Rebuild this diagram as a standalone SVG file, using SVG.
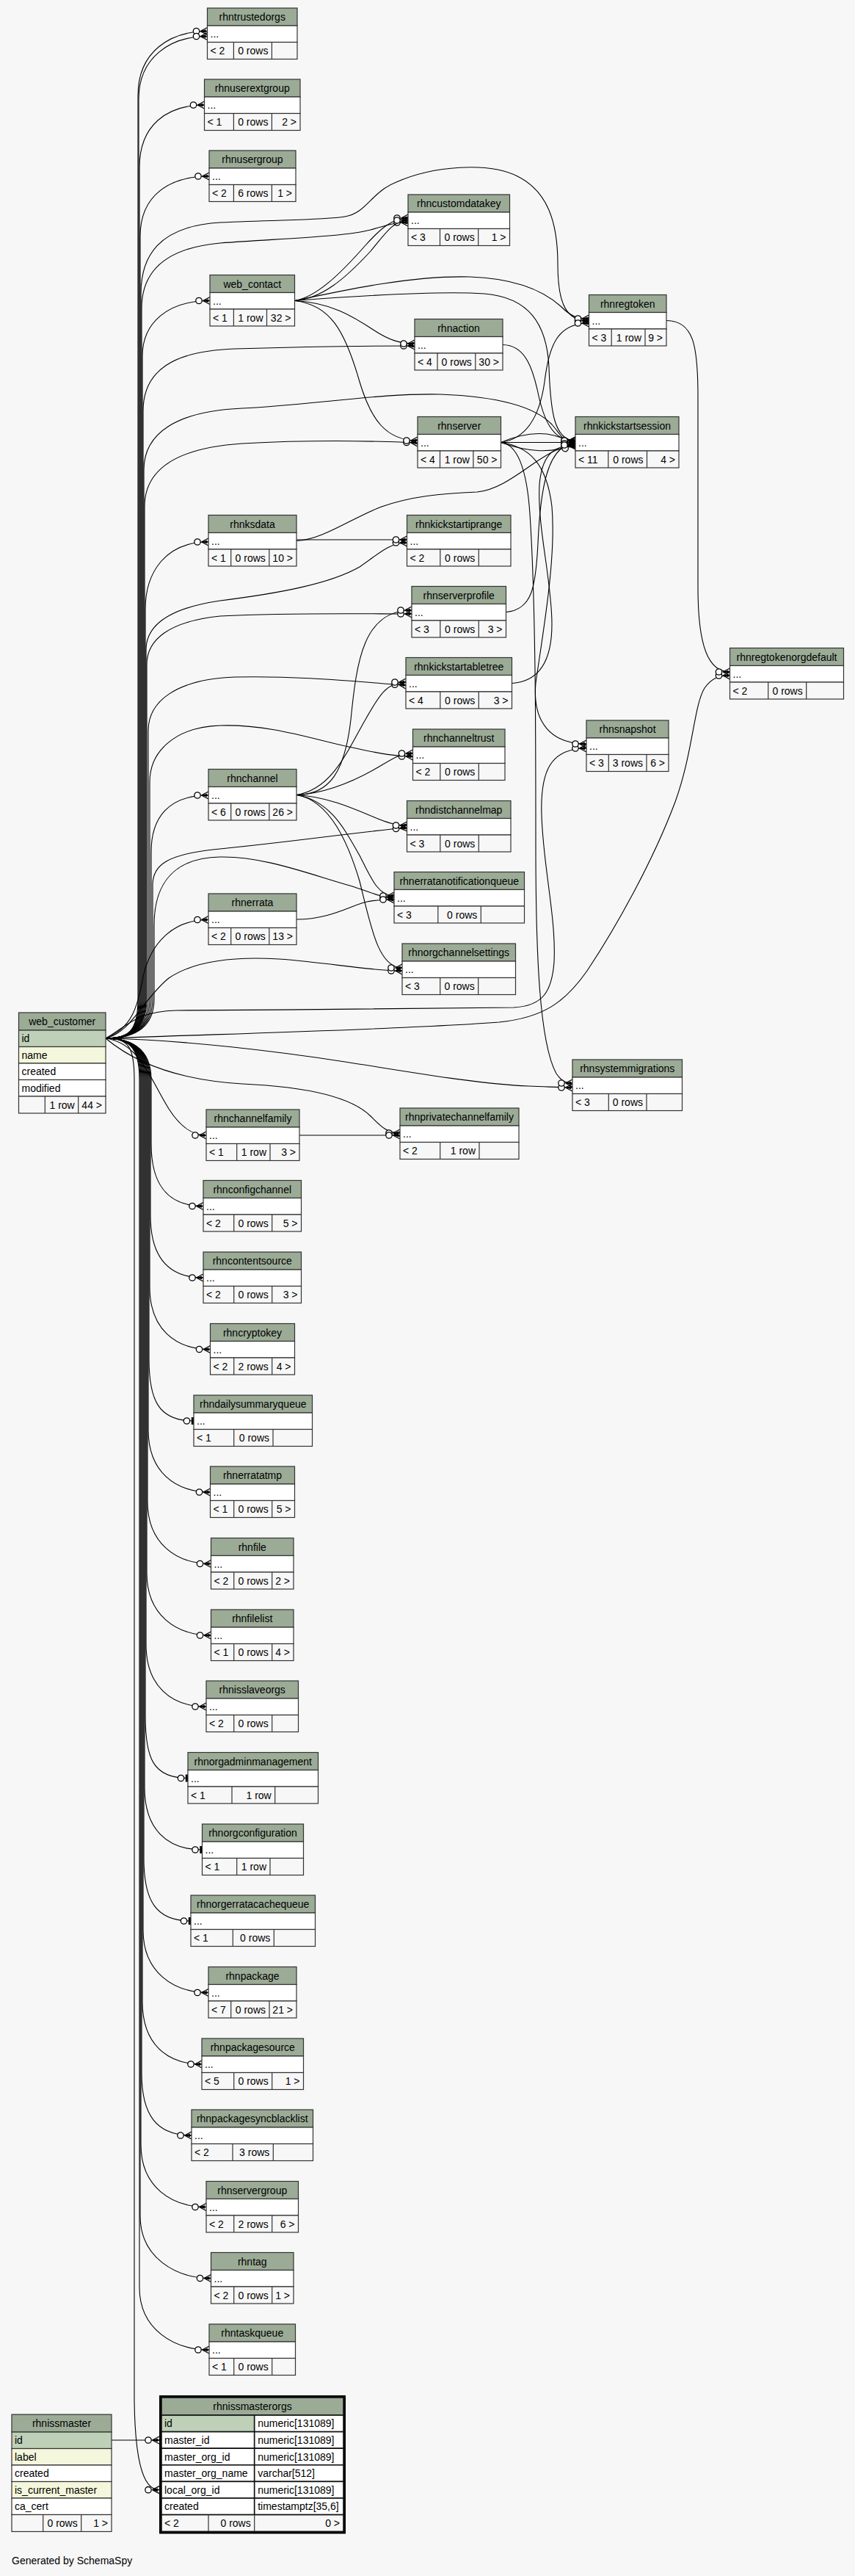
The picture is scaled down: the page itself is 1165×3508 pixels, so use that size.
<svg xmlns="http://www.w3.org/2000/svg" width="1165" height="3508" viewBox="0 0 1165 3508">
<style>
.h{fill:#9bab96;stroke:#333;stroke-width:1.2}
.w{fill:#fff;stroke:#333;stroke-width:1.2}
.p{fill:#bed1b8;stroke:#333;stroke-width:1.2}
.i{fill:#f4f7dc;stroke:#333;stroke-width:1.2}
.f{fill:#f7f7f7;stroke:#333;stroke-width:1.2}
.d{stroke:#333;stroke-width:1.2;fill:none}
text{font-family:"Liberation Sans",Arial,Helvetica,sans-serif;font-size:14px;fill:#000}
.c{text-anchor:middle}
.r{text-anchor:end}
.e{fill:none;stroke:#000;stroke-width:1.1;marker-end:url(#crow)}
.z{fill:none;stroke:#000;stroke-width:1.1;marker-end:url(#tee)}
.fo .w,.fo .p,.fo .h,.fo .f{stroke:#111;stroke-width:1.6}
</style>
<defs>
<marker id="crow" markerUnits="userSpaceOnUse" markerWidth="24" markerHeight="14" viewBox="-20 -7 24 14" refX="0" refY="0" orient="auto" overflow="visible">
<path d="M-9.5,0L0,-5M-9.5,0L0,0M-9.5,0L0,5" stroke="#000" stroke-width="1.3" fill="none"/>
<path d="M-9.5,0L-2,-2.2L-2,2.2Z" fill="#000"/>
<circle cx="-15" cy="0" r="4.2" fill="#fff" stroke="#000" stroke-width="1.3"/>
</marker>
<marker id="tee" markerUnits="userSpaceOnUse" markerWidth="24" markerHeight="14" viewBox="-20 -7 24 14" refX="0" refY="0" orient="auto" overflow="visible">
<rect x="-3.2" y="-5" width="3.2" height="10" fill="#000"/>
<circle cx="-9.5" cy="0" r="4.2" fill="#fff" stroke="#000" stroke-width="1.3"/>
</marker>
</defs>
<rect width="1165" height="3508" fill="#f7f7f7"/>

<g id="connectors">
<path class="e" d="M144,1414 C175,1414 188,1405 188,1360 L188,130 C188,70 232,42.5 282.5,42.5"/>
<path class="e" d="M144,1414 C175,1414 189,1405 189,1360 L189,135 C189,78 232,49.5 282.5,49.5"/>
<path class="e" d="M144,1414 C175,1414 190,1405 190,1360 L190,228 C190,170 228,143 278.5,143"/>
<path class="e" d="M144,1414 C175,1414 191,1405 191,1360 L191,322 C191,265 232,240 285,240"/>
<path class="e" d="M144,1414 C175,1414 192,1405 192,1360 L192,400 C192,350 215,308 300,303 C380,299 440,300 470,295 C500,290 505,262 540,248 C590,226 665,220 705,240 C745,260 760,300 760,360 C760,415 772,437 802.5,437"/>
<path class="e" d="M144,1414 C175,1414 193,1405 193,1360 L193,420 C193,372 222,338 300,331 C400,324 470,322 505,313 C530,306 538,303 556,303"/>
<path class="e" d="M144,1414 C175,1414 194,1405 194,1360 L194,485 C194,440 228,409.5 286,409.5"/>
<path class="e" d="M144,1414 C175,1414 195,1405 195,1360 L195,560 C195,505 235,478 320,475 C420,472 500,471 565,471"/>
<path class="e" d="M144,1414 C175,1414 196,1405 196,1360 L196,640 C196,590 240,560 330,556 C430,551 520,535 600,537 C680,540 730,555 752,578 C764,592 770,605 784,605"/>
<path class="e" d="M144,1414 C175,1414 197,1405 197,1360 L197,690 C197,640 240,610 330,604 C420,599 500,600 569,603"/>
<path class="e" d="M144,1414 C175,1414 198,1405 198,1360 L198,830 C198,780 225,738 284,738"/>
<path class="e" d="M144,1414 C175,1414 199,1405 199,1360 L199,885 C199,850 232,828 300,818 C380,808 450,795 490,772 C515,755 530,739 554.5,739"/>
<path class="e" d="M144,1414 C175,1414 200,1405 200,1360 L200,905 C200,870 232,846 300,839 C400,834 500,836 561,836"/>
<path class="e" d="M144,1414 C175,1414 202,1405 202,1360 L202,995 C202,955 240,925 320,922 C420,920 500,930 553,933"/>
<path class="e" d="M144,1414 C175,1414 204,1405 204,1360 L204,1065 C204,1022 240,990 300,988 C370,986 430,1008 480,1018 C520,1027 540,1030 562.5,1030"/>
<path class="e" d="M144,1414 C175,1414 206,1405 206,1360 L206,1160 C206,1115 228,1083 284,1083"/>
<path class="e" d="M144,1414 C175,1414 208,1405 208,1360 L208,1205 C208,1178 228,1164 290,1157 C400,1146 480,1134 554.5,1127"/>
<path class="e" d="M144,1414 C175,1414 210,1405 210,1360 L210,1260 C210,1200 240,1168 300,1167 C360,1166 420,1190 480,1207 C505,1215 520,1222.5 537,1222.5"/>
<path class="e" d="M144,1414 C180,1400 188,1370 195,1330 C205,1285 235,1252.5 284,1252.5"/>
<path class="e" d="M144,1414 C180,1405 195,1360 230,1332 C270,1305 330,1303 380,1306 C450,1311 500,1322 548,1322"/>
<path class="e" d="M144,1414 C170,1400 185,1377 240,1376 C400,1375 600,1374 700,1372 C740,1370 752,1350 755,1310 C758,1250 740,1180 738,1110 C736,1050 750,1019 799,1019"/>
<path class="e" d="M144,1414 C300,1408 550,1402 680,1392 C740,1386 770,1365 800,1322 C840,1262 890,1172 920,1092 C945,1022 945,962 960,937 C970,923 980,920 994.5,920"/>
<path class="e" d="M144,1414 C250,1416 380,1432 470,1446 C560,1460 650,1476 720,1479 C750,1480 765,1481 780,1481"/>
<path class="e" d="M144,1414 C175,1440 230,1470 330,1476 C420,1480 480,1495 505,1520 C518,1533 527,1543 545,1543"/>
<path class="e" d="M144,1414 C190,1420 205,1470 230,1510 C246,1535 262,1546 281,1546"/>
<path class="e" d="M144,1414 C175,1414 206,1425 206,1470 L206,1557.5 C206,1614.5 229,1642.5 277,1642.5"/>
<path class="e" d="M144,1414 C175,1414 205,1425 205,1470 L205,1655 C205,1712 229,1740 277,1740"/>
<path class="e" d="M144,1414 C175,1414 204,1425 204,1470 L204,1752.5 C204,1809.5 238.5,1837.5 286.5,1837.5"/>
<path class="z" d="M144,1414 C175,1414 203,1425 203,1470 L203,1850 C203,1907 216,1935 264,1935"/>
<path class="e" d="M144,1414 C175,1414 202,1425 202,1470 L202,1947 C202,2004 238.5,2032 286.5,2032"/>
<path class="e" d="M144,1414 C175,1414 201,1425 201,1470 L201,2044.5 C201,2101.5 239.5,2129.5 287.5,2129.5"/>
<path class="e" d="M144,1414 C175,1414 200,1425 200,1470 L200,2142 C200,2199 239.5,2227 287.5,2227"/>
<path class="e" d="M144,1414 C175,1414 199,1425 199,1470 L199,2239 C199,2296 233,2324 281,2324"/>
<path class="z" d="M144,1414 C175,1414 198,1425 198,1470 L198,2336.5 C198,2393.5 208,2421.5 256,2421.5"/>
<path class="z" d="M144,1414 C175,1414 197,1425 197,1470 L197,2434 C197,2491 227.5,2519 275.5,2519"/>
<path class="z" d="M144,1414 C175,1414 196,1425 196,1470 L196,2531 C196,2588 212,2616 260,2616"/>
<path class="e" d="M144,1414 C175,1414 195,1425 195,1470 L195,2628.5 C195,2685.5 236,2713.5 284,2713.5"/>
<path class="e" d="M144,1414 C175,1414 194,1425 194,1470 L194,2726 C194,2783 227,2811 275,2811"/>
<path class="e" d="M144,1414 C175,1414 193,1425 193,1470 L193,2823 C193,2880 213,2908 261,2908"/>
<path class="e" d="M144,1414 C175,1414 192,1425 192,1470 L192,2920.5 C192,2977.5 233,3005.5 281,3005.5"/>
<path class="e" d="M144,1414 C175,1414 191,1425 191,1470 L191,3017.5 C191,3074.5 239.5,3102.5 287.5,3102.5"/>
<path class="e" d="M144,1414 C175,1414 190,1425 190,1470 L190,3115 C190,3172 237,3200 285,3200"/>
<path class="e" d="M144,1414 C175,1414 183,1425 183,1470 L183,3270 C184,3340 192,3390.7 217,3390.7"/>
<path class="e" d="M401.5,409.5 C430,405 462,375 498,334 C518,312 534,297 556,297"/>
<path class="e" d="M401.5,409.5 C438,407 470,380 505,342 C525,318 536,300 556,300"/>
<path class="e" d="M401.5,409.5 C470,395 560,375 640,377 C700,379 740,395 765,418 C777,430 786,434 802.5,434"/>
<path class="e" d="M401.5,409.5 C500,402 600,396 660,400 C720,405 745,440 748,500 C750,560 755,600 784,600"/>
<path class="e" d="M401.5,409.5 C450,412 480,430 510,450 C530,463 545,468 565,468"/>
<path class="e" d="M401.5,409.5 C450,415 470,450 490,520 C505,570 525,600 569,600"/>
<path class="e" d="M404,735 L554.5,735"/>
<path class="e" d="M404,736.5 C440,735 480,705 520,690 C560,676 600,672 650,670 C700,665 740,607 784,607"/>
<path class="e" d="M685,469.5 C715,470 725,500 732,530 C740,570 752,601 784,601"/>
<path class="e" d="M908,436.5 C945,437 951,470 951,540 L951,800 C951,880 965,915 994.5,915"/>
<path class="e" d="M682.5,602.5 L784,602.5"/>
<path class="e" d="M682.5,602.5 C712,590 735,588 755,593 C768,597 775,600 784,600"/>
<path class="e" d="M682.5,602.5 C720,616 752,618 784,605"/>
<path class="e" d="M682.5,602.5 C715,598 735,570 742,520 C748,470 760,440 802.5,440"/>
<path class="e" d="M682.5,602.5 C720,608 745,630 752,690 C758,760 740,860 730,930 C725,985 752,1013 799,1013"/>
<path class="e" d="M682.5,602.5 C705,605 718,640 722,700 C730,820 730,1000 730,1150 C730,1300 735,1420 758,1462 C765,1472 770,1475 780,1475"/>
<path class="e" d="M689.5,833.5 C725,830 730,800 733,740 C736,670 745,604 784,604"/>
<path class="e" d="M697.5,930.5 C735,928 752,900 752,850 C752,790 732,720 735,660 C738,625 750,606 784,606"/>
<path class="e" d="M404,1082.5 C450,1082 470,1050 478,980 C486,900 495,831 561,831"/>
<path class="e" d="M404,1082.5 C450,1075 470,1030 495,985 C515,950 525,929 553,929"/>
<path class="e" d="M404,1082.5 C450,1080 490,1060 520,1042 C540,1030 548,1026 562.5,1026"/>
<path class="e" d="M404,1082.5 C450,1085 490,1105 515,1115 C530,1121 540,1124 554.5,1124"/>
<path class="e" d="M404,1082.5 C450,1090 470,1130 490,1165 C505,1195 515,1220 537,1220"/>
<path class="e" d="M404,1082.5 C450,1090 475,1150 490,1200 C505,1260 515,1318 548,1318"/>
<path class="e" d="M404,1252 C450,1252 480,1232 500,1228 C515,1225 525,1225 537,1225"/>
<path class="e" d="M408,1546 L545,1546"/>
<path class="e" d="M152,3323 L217,3323"/>
</g>

<g id="rhntrustedorgs" transform="translate(282.5,11)">
<rect class="h" width="122.5" height="24"/><text class="c" x="61.25" y="17">rhntrustedorgs</text>
<rect class="w" y="24" width="122.5" height="22.5"/><text x="4" y="40">...</text>
<rect class="f" y="46.5" width="122.5" height="23"/><path class="d" d="M35.9,46.5v23M87.9,46.5v23"/>
<text x="4" y="63">&lt; 2</text><text class="r" x="82.9" y="63">0 rows</text>
</g>
<g id="rhnuserextgroup" transform="translate(278.5,108)">
<rect class="h" width="130.5" height="24"/><text class="c" x="65.25" y="17">rhnuserextgroup</text>
<rect class="w" y="24" width="130.5" height="22.5"/><text x="4" y="40">...</text>
<rect class="f" y="46.5" width="130.5" height="23"/><path class="d" d="M39.9,46.5v23M91.9,46.5v23"/>
<text x="4" y="63">&lt; 1</text><text class="r" x="86.9" y="63">0 rows</text><text class="r" x="125.5" y="63">2 &gt;</text>
</g>
<g id="rhnusergroup" transform="translate(285,205)">
<rect class="h" width="118" height="24"/><text class="c" x="59" y="17">rhnusergroup</text>
<rect class="w" y="24" width="118" height="22.5"/><text x="4" y="40">...</text>
<rect class="f" y="46.5" width="118" height="23"/><path class="d" d="M33.4,46.5v23M85.4,46.5v23"/>
<text x="4" y="63">&lt; 2</text><text class="r" x="80.4" y="63">6 rows</text><text class="r" x="113" y="63">1 &gt;</text>
</g>
<g id="web_contact" transform="translate(286,374.5)">
<rect class="h" width="115.5" height="24"/><text class="c" x="57.75" y="17">web_contact</text>
<rect class="w" y="24" width="115.5" height="22.5"/><text x="4" y="40">...</text>
<rect class="f" y="46.5" width="115.5" height="23"/><path class="d" d="M32.4,46.5v23M77.5,46.5v23"/>
<text x="4" y="63">&lt; 1</text><text class="r" x="72.5" y="63">1 row</text><text class="r" x="110.5" y="63">32 &gt;</text>
</g>
<g id="rhncustomdatakey" transform="translate(556,265)">
<rect class="h" width="138.5" height="24"/><text class="c" x="69.25" y="17">rhncustomdatakey</text>
<rect class="w" y="24" width="138.5" height="22.5"/><text x="4" y="40">...</text>
<rect class="f" y="46.5" width="138.5" height="23"/><path class="d" d="M43.5,46.5v23M95.7,46.5v23"/>
<text x="4" y="63">&lt; 3</text><text class="r" x="90.7" y="63">0 rows</text><text class="r" x="133.5" y="63">1 &gt;</text>
</g>
<g id="rhnaction" transform="translate(565,434.5)">
<rect class="h" width="120" height="24"/><text class="c" x="60" y="17">rhnaction</text>
<rect class="w" y="24" width="120" height="22.5"/><text x="4" y="40">...</text>
<rect class="f" y="46.5" width="120" height="23"/><path class="d" d="M31,46.5v23M82.8,46.5v23"/>
<text x="4" y="63">&lt; 4</text><text class="r" x="77.8" y="63">0 rows</text><text class="r" x="115" y="63">30 &gt;</text>
</g>
<g id="rhnregtoken" transform="translate(802.5,401.5)">
<rect class="h" width="105.5" height="24"/><text class="c" x="52.75" y="17">rhnregtoken</text>
<rect class="w" y="24" width="105.5" height="22.5"/><text x="4" y="40">...</text>
<rect class="f" y="46.5" width="105.5" height="23"/><path class="d" d="M30.7,46.5v23M76.5,46.5v23"/>
<text x="4" y="63">&lt; 3</text><text class="r" x="71.5" y="63">1 row</text><text class="r" x="100.5" y="63">9 &gt;</text>
</g>
<g id="rhnserver" transform="translate(569,567.5)">
<rect class="h" width="113.5" height="24"/><text class="c" x="56.75" y="17">rhnserver</text>
<rect class="w" y="24" width="113.5" height="22.5"/><text x="4" y="40">...</text>
<rect class="f" y="46.5" width="113.5" height="23"/><path class="d" d="M30.5,46.5v23M75.9,46.5v23"/>
<text x="4" y="63">&lt; 4</text><text class="r" x="70.9" y="63">1 row</text><text class="r" x="108.5" y="63">50 &gt;</text>
</g>
<g id="rhnkickstartsession" transform="translate(784,567.5)">
<rect class="h" width="141" height="24"/><text class="c" x="70.5" y="17">rhnkickstartsession</text>
<rect class="w" y="24" width="141" height="22.5"/><text x="4" y="40">...</text>
<rect class="f" y="46.5" width="141" height="23"/><path class="d" d="M44.8,46.5v23M97.5,46.5v23"/>
<text x="4" y="63">&lt; 11</text><text class="r" x="92.5" y="63">0 rows</text><text class="r" x="136" y="63">4 &gt;</text>
</g>
<g id="rhnregtokenorgdefault" transform="translate(994.5,882.5)">
<rect class="h" width="155" height="24"/><text class="c" x="77.5" y="17">rhnregtokenorgdefault</text>
<rect class="w" y="24" width="155" height="22.5"/><text x="4" y="40">...</text>
<rect class="f" y="46.5" width="155" height="23"/><path class="d" d="M52.2,46.5v23M104.2,46.5v23"/>
<text x="4" y="63">&lt; 2</text><text class="r" x="99.2" y="63">0 rows</text>
</g>
<g id="rhnksdata" transform="translate(284,701.5)">
<rect class="h" width="120" height="24"/><text class="c" x="60" y="17">rhnksdata</text>
<rect class="w" y="24" width="120" height="22.5"/><text x="4" y="40">...</text>
<rect class="f" y="46.5" width="120" height="23"/><path class="d" d="M30.7,46.5v23M82.8,46.5v23"/>
<text x="4" y="63">&lt; 1</text><text class="r" x="77.8" y="63">0 rows</text><text class="r" x="115" y="63">10 &gt;</text>
</g>
<g id="rhnkickstartiprange" transform="translate(554.5,701.5)">
<rect class="h" width="141.5" height="24"/><text class="c" x="70.75" y="17">rhnkickstartiprange</text>
<rect class="w" y="24" width="141.5" height="22.5"/><text x="4" y="40">...</text>
<rect class="f" y="46.5" width="141.5" height="23"/><path class="d" d="M45.3,46.5v23M97.8,46.5v23"/>
<text x="4" y="63">&lt; 2</text><text class="r" x="92.8" y="63">0 rows</text>
</g>
<g id="rhnserverprofile" transform="translate(561,798.5)">
<rect class="h" width="128.5" height="24"/><text class="c" x="64.25" y="17">rhnserverprofile</text>
<rect class="w" y="24" width="128.5" height="22.5"/><text x="4" y="40">...</text>
<rect class="f" y="46.5" width="128.5" height="23"/><path class="d" d="M38.8,46.5v23M91.3,46.5v23"/>
<text x="4" y="63">&lt; 3</text><text class="r" x="86.3" y="63">0 rows</text><text class="r" x="123.5" y="63">3 &gt;</text>
</g>
<g id="rhnkickstartabletree" transform="translate(553,895.5)">
<rect class="h" width="144.5" height="24"/><text class="c" x="72.25" y="17">rhnkickstartabletree</text>
<rect class="w" y="24" width="144.5" height="22.5"/><text x="4" y="40">...</text>
<rect class="f" y="46.5" width="144.5" height="23"/><path class="d" d="M46.8,46.5v23M99.3,46.5v23"/>
<text x="4" y="63">&lt; 4</text><text class="r" x="94.3" y="63">0 rows</text><text class="r" x="139.5" y="63">3 &gt;</text>
</g>
<g id="rhnchanneltrust" transform="translate(562.5,993)">
<rect class="h" width="125.5" height="24"/><text class="c" x="62.75" y="17">rhnchanneltrust</text>
<rect class="w" y="24" width="125.5" height="22.5"/><text x="4" y="40">...</text>
<rect class="f" y="46.5" width="125.5" height="23"/><path class="d" d="M37.3,46.5v23M89.8,46.5v23"/>
<text x="4" y="63">&lt; 2</text><text class="r" x="84.8" y="63">0 rows</text>
</g>
<g id="rhnchannel" transform="translate(284,1047.5)">
<rect class="h" width="120" height="24"/><text class="c" x="60" y="17">rhnchannel</text>
<rect class="w" y="24" width="120" height="22.5"/><text x="4" y="40">...</text>
<rect class="f" y="46.5" width="120" height="23"/><path class="d" d="M30.7,46.5v23M82.8,46.5v23"/>
<text x="4" y="63">&lt; 6</text><text class="r" x="77.8" y="63">0 rows</text><text class="r" x="115" y="63">26 &gt;</text>
</g>
<g id="rhndistchannelmap" transform="translate(554.5,1090.5)">
<rect class="h" width="141.5" height="24"/><text class="c" x="70.75" y="17">rhndistchannelmap</text>
<rect class="w" y="24" width="141.5" height="22.5"/><text x="4" y="40">...</text>
<rect class="f" y="46.5" width="141.5" height="23"/><path class="d" d="M45.3,46.5v23M97.8,46.5v23"/>
<text x="4" y="63">&lt; 3</text><text class="r" x="92.8" y="63">0 rows</text>
</g>
<g id="rhnerratanotificationqueue" transform="translate(537,1187.5)">
<rect class="h" width="177.5" height="24"/><text class="c" x="88.75" y="17">rhnerratanotificationqueue</text>
<rect class="w" y="24" width="177.5" height="22.5"/><text x="4" y="40">...</text>
<rect class="f" y="46.5" width="177.5" height="23"/><path class="d" d="M59.8,46.5v23M118.3,46.5v23"/>
<text x="4" y="63">&lt; 3</text><text class="r" x="113.3" y="63">0 rows</text>
</g>
<g id="rhnerrata" transform="translate(284,1217)">
<rect class="h" width="120" height="24"/><text class="c" x="60" y="17">rhnerrata</text>
<rect class="w" y="24" width="120" height="22.5"/><text x="4" y="40">...</text>
<rect class="f" y="46.5" width="120" height="23"/><path class="d" d="M30.7,46.5v23M82.8,46.5v23"/>
<text x="4" y="63">&lt; 2</text><text class="r" x="77.8" y="63">0 rows</text><text class="r" x="115" y="63">13 &gt;</text>
</g>
<g id="rhnorgchannelsettings" transform="translate(548,1285)">
<rect class="h" width="154.5" height="24"/><text class="c" x="77.25" y="17">rhnorgchannelsettings</text>
<rect class="w" y="24" width="154.5" height="22.5"/><text x="4" y="40">...</text>
<rect class="f" y="46.5" width="154.5" height="23"/><path class="d" d="M51.7,46.5v23M103.7,46.5v23"/>
<text x="4" y="63">&lt; 3</text><text class="r" x="98.7" y="63">0 rows</text>
</g>
<g id="rhnsnapshot" transform="translate(799,981)">
<rect class="h" width="112" height="24"/><text class="c" x="56" y="17">rhnsnapshot</text>
<rect class="w" y="24" width="112" height="22.5"/><text x="4" y="40">...</text>
<rect class="f" y="46.5" width="112" height="23"/><path class="d" d="M30.3,46.5v23M82,46.5v23"/>
<text x="4" y="63">&lt; 3</text><text class="r" x="77" y="63">3 rows</text><text class="r" x="107" y="63">6 &gt;</text>
</g>
<g id="rhnsystemmigrations" transform="translate(780,1443)">
<rect class="h" width="149.5" height="24"/><text class="c" x="74.75" y="17">rhnsystemmigrations</text>
<rect class="w" y="24" width="149.5" height="22.5"/><text x="4" y="40">...</text>
<rect class="f" y="46.5" width="149.5" height="23"/><path class="d" d="M49.3,46.5v23M101,46.5v23"/>
<text x="4" y="63">&lt; 3</text><text class="r" x="96" y="63">0 rows</text>
</g>
<g id="rhnprivatechannelfamily" transform="translate(545,1509)">
<rect class="h" width="162" height="24"/><text class="c" x="81" y="17">rhnprivatechannelfamily</text>
<rect class="w" y="24" width="162" height="22.5"/><text x="4" y="40">...</text>
<rect class="f" y="46.5" width="162" height="23"/><path class="d" d="M54.7,46.5v23M108,46.5v23"/>
<text x="4" y="63">&lt; 2</text><text class="r" x="103" y="63">1 row</text>
</g>
<g id="web_customer" transform="translate(25.5,1379)">
<rect class="h" width="118.5" height="24"/><text class="c" x="59.25" y="17">web_customer</text>
<rect class="p" y="24" width="118.5" height="22.5"/><text x="4" y="40">id</text>
<rect class="i" y="46.5" width="118.5" height="22.5"/><text x="4" y="62.5">name</text>
<rect class="w" y="69" width="118.5" height="22.5"/><text x="4" y="85">created</text>
<rect class="w" y="91.5" width="118.5" height="22.5"/><text x="4" y="107.5">modified</text>
<rect class="f" y="114" width="118.5" height="23"/><path class="d" d="M35.8,114v23M81.2,114v23"/>
<text class="r" x="76.2" y="130.5">1 row</text><text class="r" x="113.5" y="130.5">44 &gt;</text>
</g>
<g id="rhnchannelfamily" transform="translate(281,1511)">
<rect class="h" width="127" height="24"/><text class="c" x="63.5" y="17">rhnchannelfamily</text>
<rect class="w" y="24" width="127" height="22.5"/><text x="4" y="40">...</text>
<rect class="f" y="46.5" width="127" height="23"/><path class="d" d="M41.7,46.5v23M87,46.5v23"/>
<text x="4" y="63">&lt; 1</text><text class="r" x="82" y="63">1 row</text><text class="r" x="122" y="63">3 &gt;</text>
</g>
<g id="rhnconfigchannel" transform="translate(277,1607.5)">
<rect class="h" width="133.5" height="24"/><text class="c" x="66.75" y="17">rhnconfigchannel</text>
<rect class="w" y="24" width="133.5" height="22.5"/><text x="4" y="40">...</text>
<rect class="f" y="46.5" width="133.5" height="23"/><path class="d" d="M41.7,46.5v23M93.7,46.5v23"/>
<text x="4" y="63">&lt; 2</text><text class="r" x="88.7" y="63">0 rows</text><text class="r" x="128.5" y="63">5 &gt;</text>
</g>
<g id="rhncontentsource" transform="translate(277,1705)">
<rect class="h" width="133.5" height="24"/><text class="c" x="66.75" y="17">rhncontentsource</text>
<rect class="w" y="24" width="133.5" height="22.5"/><text x="4" y="40">...</text>
<rect class="f" y="46.5" width="133.5" height="23"/><path class="d" d="M41.7,46.5v23M93.7,46.5v23"/>
<text x="4" y="63">&lt; 2</text><text class="r" x="88.7" y="63">0 rows</text><text class="r" x="128.5" y="63">3 &gt;</text>
</g>
<g id="rhncryptokey" transform="translate(286.5,1802.5)">
<rect class="h" width="115" height="24"/><text class="c" x="57.5" y="17">rhncryptokey</text>
<rect class="w" y="24" width="115" height="22.5"/><text x="4" y="40">...</text>
<rect class="f" y="46.5" width="115" height="23"/><path class="d" d="M32.2,46.5v23M84.2,46.5v23"/>
<text x="4" y="63">&lt; 2</text><text class="r" x="79.2" y="63">2 rows</text><text class="r" x="110" y="63">4 &gt;</text>
</g>
<g id="rhndailysummaryqueue" transform="translate(264,1900)">
<rect class="h" width="161.5" height="24"/><text class="c" x="80.75" y="17">rhndailysummaryqueue</text>
<rect class="w" y="24" width="161.5" height="22.5"/><text x="4" y="40">...</text>
<rect class="f" y="46.5" width="161.5" height="23"/><path class="d" d="M54.7,46.5v23M108,46.5v23"/>
<text x="4" y="63">&lt; 1</text><text class="r" x="103" y="63">0 rows</text>
</g>
<g id="rhnerratatmp" transform="translate(286.5,1997)">
<rect class="h" width="115" height="24"/><text class="c" x="57.5" y="17">rhnerratatmp</text>
<rect class="w" y="24" width="115" height="22.5"/><text x="4" y="40">...</text>
<rect class="f" y="46.5" width="115" height="23"/><path class="d" d="M32.2,46.5v23M84.2,46.5v23"/>
<text x="4" y="63">&lt; 1</text><text class="r" x="79.2" y="63">0 rows</text><text class="r" x="110" y="63">5 &gt;</text>
</g>
<g id="rhnfile" transform="translate(287.5,2094.5)">
<rect class="h" width="112.5" height="24"/><text class="c" x="56.25" y="17">rhnfile</text>
<rect class="w" y="24" width="112.5" height="22.5"/><text x="4" y="40">...</text>
<rect class="f" y="46.5" width="112.5" height="23"/><path class="d" d="M31.2,46.5v23M83.2,46.5v23"/>
<text x="4" y="63">&lt; 2</text><text class="r" x="78.2" y="63">0 rows</text><text class="r" x="107.5" y="63">2 &gt;</text>
</g>
<g id="rhnfilelist" transform="translate(287.5,2192)">
<rect class="h" width="112.5" height="24"/><text class="c" x="56.25" y="17">rhnfilelist</text>
<rect class="w" y="24" width="112.5" height="22.5"/><text x="4" y="40">...</text>
<rect class="f" y="46.5" width="112.5" height="23"/><path class="d" d="M31.2,46.5v23M83.2,46.5v23"/>
<text x="4" y="63">&lt; 1</text><text class="r" x="78.2" y="63">0 rows</text><text class="r" x="107.5" y="63">4 &gt;</text>
</g>
<g id="rhnisslaveorgs" transform="translate(281,2289)">
<rect class="h" width="125.5" height="24"/><text class="c" x="62.75" y="17">rhnisslaveorgs</text>
<rect class="w" y="24" width="125.5" height="22.5"/><text x="4" y="40">...</text>
<rect class="f" y="46.5" width="125.5" height="23"/><path class="d" d="M37.7,46.5v23M89.7,46.5v23"/>
<text x="4" y="63">&lt; 2</text><text class="r" x="84.7" y="63">0 rows</text>
</g>
<g id="rhnorgadminmanagement" transform="translate(256,2386.5)">
<rect class="h" width="177.5" height="24"/><text class="c" x="88.75" y="17">rhnorgadminmanagement</text>
<rect class="w" y="24" width="177.5" height="22.5"/><text x="4" y="40">...</text>
<rect class="f" y="46.5" width="177.5" height="23"/><path class="d" d="M60,46.5v23M118.7,46.5v23"/>
<text x="4" y="63">&lt; 1</text><text class="r" x="113.7" y="63">1 row</text>
</g>
<g id="rhnorgconfiguration" transform="translate(275.5,2484)">
<rect class="h" width="138" height="24"/><text class="c" x="69" y="17">rhnorgconfiguration</text>
<rect class="w" y="24" width="138" height="22.5"/><text x="4" y="40">...</text>
<rect class="f" y="46.5" width="138" height="23"/><path class="d" d="M47.2,46.5v23M92.5,46.5v23"/>
<text x="4" y="63">&lt; 1</text><text class="r" x="87.5" y="63">1 row</text>
</g>
<g id="rhnorgerratacachequeue" transform="translate(260,2581)">
<rect class="h" width="169.5" height="24"/><text class="c" x="84.75" y="17">rhnorgerratacachequeue</text>
<rect class="w" y="24" width="169.5" height="22.5"/><text x="4" y="40">...</text>
<rect class="f" y="46.5" width="169.5" height="23"/><path class="d" d="M57.3,46.5v23M113.3,46.5v23"/>
<text x="4" y="63">&lt; 1</text><text class="r" x="108.3" y="63">0 rows</text>
</g>
<g id="rhnpackage" transform="translate(284,2678.5)">
<rect class="h" width="120" height="24"/><text class="c" x="60" y="17">rhnpackage</text>
<rect class="w" y="24" width="120" height="22.5"/><text x="4" y="40">...</text>
<rect class="f" y="46.5" width="120" height="23"/><path class="d" d="M30.7,46.5v23M83,46.5v23"/>
<text x="4" y="63">&lt; 7</text><text class="r" x="78" y="63">0 rows</text><text class="r" x="115" y="63">21 &gt;</text>
</g>
<g id="rhnpackagesource" transform="translate(275,2776)">
<rect class="h" width="138.5" height="24"/><text class="c" x="69.25" y="17">rhnpackagesource</text>
<rect class="w" y="24" width="138.5" height="22.5"/><text x="4" y="40">...</text>
<rect class="f" y="46.5" width="138.5" height="23"/><path class="d" d="M43.7,46.5v23M95.7,46.5v23"/>
<text x="4" y="63">&lt; 5</text><text class="r" x="90.7" y="63">0 rows</text><text class="r" x="133.5" y="63">1 &gt;</text>
</g>
<g id="rhnpackagesyncblacklist" transform="translate(261,2873)">
<rect class="h" width="165.5" height="24"/><text class="c" x="82.75" y="17">rhnpackagesyncblacklist</text>
<rect class="w" y="24" width="165.5" height="22.5"/><text x="4" y="40">...</text>
<rect class="f" y="46.5" width="165.5" height="23"/><path class="d" d="M56,46.5v23M111.3,46.5v23"/>
<text x="4" y="63">&lt; 2</text><text class="r" x="106.3" y="63">3 rows</text>
</g>
<g id="rhnservergroup" transform="translate(281,2970.5)">
<rect class="h" width="125.5" height="24"/><text class="c" x="62.75" y="17">rhnservergroup</text>
<rect class="w" y="24" width="125.5" height="22.5"/><text x="4" y="40">...</text>
<rect class="f" y="46.5" width="125.5" height="23"/><path class="d" d="M37.7,46.5v23M89.7,46.5v23"/>
<text x="4" y="63">&lt; 2</text><text class="r" x="84.7" y="63">2 rows</text><text class="r" x="120.5" y="63">6 &gt;</text>
</g>
<g id="rhntag" transform="translate(287.5,3067.5)">
<rect class="h" width="112.5" height="24"/><text class="c" x="56.25" y="17">rhntag</text>
<rect class="w" y="24" width="112.5" height="22.5"/><text x="4" y="40">...</text>
<rect class="f" y="46.5" width="112.5" height="23"/><path class="d" d="M31.2,46.5v23M83.2,46.5v23"/>
<text x="4" y="63">&lt; 2</text><text class="r" x="78.2" y="63">0 rows</text><text class="r" x="107.5" y="63">1 &gt;</text>
</g>
<g id="rhntaskqueue" transform="translate(285,3165)">
<rect class="h" width="117.5" height="24"/><text class="c" x="58.75" y="17">rhntaskqueue</text>
<rect class="w" y="24" width="117.5" height="22.5"/><text x="4" y="40">...</text>
<rect class="f" y="46.5" width="117.5" height="23"/><path class="d" d="M33.7,46.5v23M85.7,46.5v23"/>
<text x="4" y="63">&lt; 1</text><text class="r" x="80.7" y="63">0 rows</text>
</g>
<g id="rhnissmaster" transform="translate(16,3288)">
<rect class="h" width="136" height="24"/><text class="c" x="68" y="17">rhnissmaster</text>
<rect class="p" y="24" width="136" height="22.5"/><text x="4" y="40">id</text>
<rect class="i" y="46.5" width="136" height="22.5"/><text x="4" y="62.5">label</text>
<rect class="w" y="69" width="136" height="22.5"/><text x="4" y="85">created</text>
<rect class="i" y="91.5" width="136" height="22.5"/><text x="4" y="107.5">is_current_master</text>
<rect class="w" y="114" width="136" height="22.5"/><text x="4" y="130">ca_cert</text>
<rect class="f" y="136.5" width="136" height="23"/><path class="d" d="M42.7,136.5v23M94.7,136.5v23"/>
<text class="r" x="89.7" y="153">0 rows</text><text class="r" x="131" y="153">1 &gt;</text>
</g>
<g id="rhnissmasterorgs" class="fo" transform="translate(220,3265)">
<rect x="-1.5" y="-1.5" width="251" height="185.5" fill="none" stroke="#000" stroke-width="3"/>
<rect class="h" width="248" height="24"/><text class="c" x="124" y="17">rhnissmasterorgs</text>
<rect class="p" y="24" width="126.7" height="22.6"/><rect class="w" x="126.7" y="24" width="121.3" height="22.6"/>
<text x="4" y="40.3">id</text><text x="131.2" y="40.3">numeric[131089]</text>
<rect class="w" y="46.6" width="126.7" height="22.6"/><rect class="w" x="126.7" y="46.6" width="121.3" height="22.6"/>
<text x="4" y="62.9">master_id</text><text x="131.2" y="62.9">numeric[131089]</text>
<rect class="w" y="69.2" width="126.7" height="22.6"/><rect class="w" x="126.7" y="69.2" width="121.3" height="22.6"/>
<text x="4" y="85.5">master_org_id</text><text x="131.2" y="85.5">numeric[131089]</text>
<rect class="w" y="91.8" width="126.7" height="22.6"/><rect class="w" x="126.7" y="91.8" width="121.3" height="22.6"/>
<text x="4" y="108.1">master_org_name</text><text x="131.2" y="108.1">varchar[512]</text>
<rect class="w" y="114.4" width="126.7" height="22.6"/><rect class="w" x="126.7" y="114.4" width="121.3" height="22.6"/>
<text x="4" y="130.7">local_org_id</text><text x="131.2" y="130.7">numeric[131089]</text>
<rect class="w" y="137" width="126.7" height="22.6"/><rect class="w" x="126.7" y="137" width="121.3" height="22.6"/>
<text x="4" y="153.3">created</text><text x="131.2" y="153.3">timestamptz[35,6]</text>
<rect class="f" y="159.6" width="248" height="22.8"/><path class="d" d="M64,159.6v22.8M126.7,159.6v22.8" stroke="#111" stroke-width="1.6"/>
<text x="4" y="176">&lt; 2</text><text class="r" x="121.7" y="176">0 rows</text><text class="r" x="243" y="176">0 &gt;</text>
</g>
<text x="16" y="3492">Generated by SchemaSpy</text>
</svg>
